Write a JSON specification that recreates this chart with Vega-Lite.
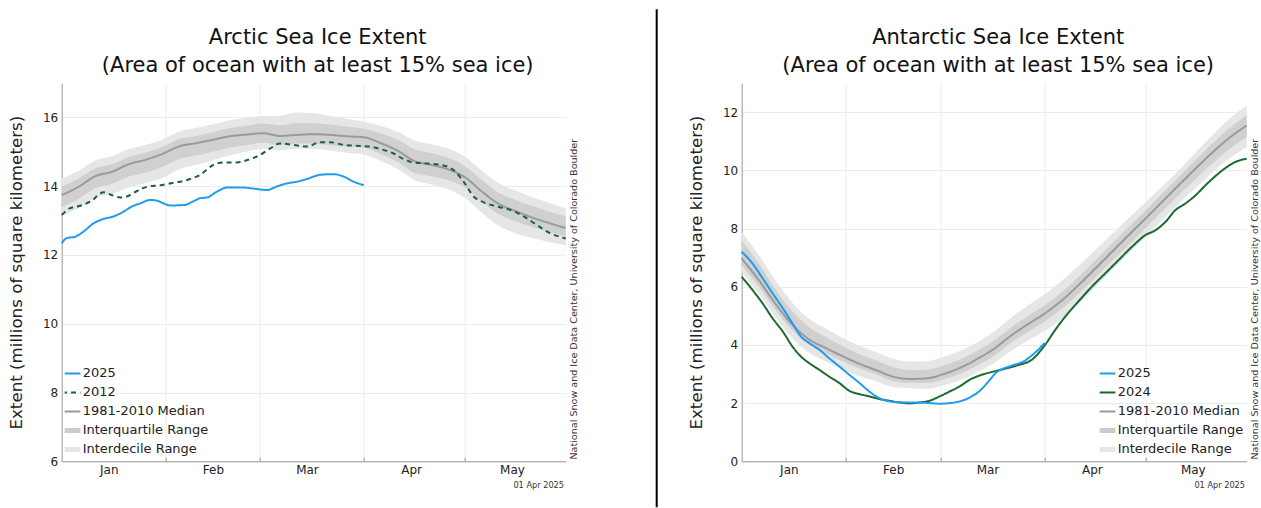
{
  "$schema": "https://vega.github.io/schema/vega-lite/v6.json",
  "padding": {"left": 7.7, "top": 8, "right": 5, "bottom": 2},
  "bounds": "flush",
  "spacing": 20,
  "config": {
    "font": "DejaVu Sans",
    "view": {"stroke": null},
    "axis": {
      "labelFont": "DejaVu Sans", "titleFont": "DejaVu Sans",
      "labelFontSize": 12, "titleFontSize": 16.7, "titleFontWeight": "normal",
      "labelColor": "#222", "titleColor": "#222",
      "domainColor": "#999", "domainWidth": 1,
      "gridColor": "#ececec", "gridWidth": 1,
      "ticks": false
    },
    "legend": {
      "labelFont": "DejaVu Sans", "labelFontSize": 13, "labelColor": "#222",
      "symbolType": "stroke", "symbolSize": 340, "symbolStrokeWidth": 2, "rowPadding": 2, "clipHeight": 17,
      "padding": 0, "labelOffset": 5, "offset": 3
    },
    "title": {
      "font": "DejaVu Sans", "fontSize": 21, "fontWeight": "normal",
      "color": "#111", "lineHeight": 28.6, "anchor": "middle", "dx": 4, "offset": 6.5
    }
  },
  "resolve": {"scale": {"x": "independent", "y": "independent", "color": "independent", "strokeDash": "independent"}},
  "datasets": {
    "arctic_bands": [
      {"series": "Interdecile Range", "day": 0, "extent": 13.14, "extent_high": 14.22},
      {"series": "Interdecile Range", "day": 5, "extent": 13.36, "extent_high": 14.45},
      {"series": "Interdecile Range", "day": 10, "extent": 13.66, "extent_high": 14.75},
      {"series": "Interdecile Range", "day": 15, "extent": 13.77, "extent_high": 14.87},
      {"series": "Interdecile Range", "day": 20, "extent": 13.97, "extent_high": 15.08},
      {"series": "Interdecile Range", "day": 25, "extent": 14.09, "extent_high": 15.20},
      {"series": "Interdecile Range", "day": 30, "extent": 14.24, "extent_high": 15.36},
      {"series": "Interdecile Range", "day": 35, "extent": 14.49, "extent_high": 15.59},
      {"series": "Interdecile Range", "day": 40, "extent": 14.62, "extent_high": 15.69},
      {"series": "Interdecile Range", "day": 45, "extent": 14.75, "extent_high": 15.80},
      {"series": "Interdecile Range", "day": 50, "extent": 14.90, "extent_high": 15.92},
      {"series": "Interdecile Range", "day": 55, "extent": 15.00, "extent_high": 15.98},
      {"series": "Interdecile Range", "day": 60, "extent": 15.09, "extent_high": 16.04},
      {"series": "Interdecile Range", "day": 65, "extent": 15.04, "extent_high": 16.05},
      {"series": "Interdecile Range", "day": 70, "extent": 15.09, "extent_high": 16.14},
      {"series": "Interdecile Range", "day": 75, "extent": 15.08, "extent_high": 16.12},
      {"series": "Interdecile Range", "day": 80, "extent": 15.04, "extent_high": 16.04},
      {"series": "Interdecile Range", "day": 85, "extent": 14.97, "extent_high": 15.95},
      {"series": "Interdecile Range", "day": 90, "extent": 14.92, "extent_high": 15.87},
      {"series": "Interdecile Range", "day": 95, "extent": 14.73, "extent_high": 15.75},
      {"series": "Interdecile Range", "day": 100, "extent": 14.50, "extent_high": 15.58},
      {"series": "Interdecile Range", "day": 105, "extent": 14.18, "extent_high": 15.33},
      {"series": "Interdecile Range", "day": 110, "extent": 14.05, "extent_high": 15.22},
      {"series": "Interdecile Range", "day": 115, "extent": 13.91, "extent_high": 15.09},
      {"series": "Interdecile Range", "day": 120, "extent": 13.66, "extent_high": 14.86},
      {"series": "Interdecile Range", "day": 125, "extent": 13.23, "extent_high": 14.45},
      {"series": "Interdecile Range", "day": 130, "extent": 12.86, "extent_high": 14.09},
      {"series": "Interdecile Range", "day": 135, "extent": 12.63, "extent_high": 13.88},
      {"series": "Interdecile Range", "day": 140, "extent": 12.49, "extent_high": 13.68},
      {"series": "Interdecile Range", "day": 145, "extent": 12.38, "extent_high": 13.52},
      {"series": "Interdecile Range", "day": 150, "extent": 12.28, "extent_high": 13.36},
      {"series": "Interquartile Range", "day": 0, "extent": 13.39, "extent_high": 13.99},
      {"series": "Interquartile Range", "day": 5, "extent": 13.63, "extent_high": 14.22},
      {"series": "Interquartile Range", "day": 10, "extent": 13.94, "extent_high": 14.52},
      {"series": "Interquartile Range", "day": 15, "extent": 14.07, "extent_high": 14.64},
      {"series": "Interquartile Range", "day": 20, "extent": 14.28, "extent_high": 14.85},
      {"series": "Interquartile Range", "day": 25, "extent": 14.40, "extent_high": 14.98},
      {"series": "Interquartile Range", "day": 30, "extent": 14.56, "extent_high": 15.14},
      {"series": "Interquartile Range", "day": 35, "extent": 14.79, "extent_high": 15.37},
      {"series": "Interquartile Range", "day": 40, "extent": 14.89, "extent_high": 15.46},
      {"series": "Interquartile Range", "day": 45, "extent": 15.00, "extent_high": 15.57},
      {"series": "Interquartile Range", "day": 50, "extent": 15.12, "extent_high": 15.69},
      {"series": "Interquartile Range", "day": 55, "extent": 15.20, "extent_high": 15.76},
      {"series": "Interquartile Range", "day": 60, "extent": 15.26, "extent_high": 15.82},
      {"series": "Interquartile Range", "day": 65, "extent": 15.20, "extent_high": 15.77},
      {"series": "Interquartile Range", "day": 70, "extent": 15.24, "extent_high": 15.83},
      {"series": "Interquartile Range", "day": 75, "extent": 15.23, "extent_high": 15.83},
      {"series": "Interquartile Range", "day": 80, "extent": 15.19, "extent_high": 15.79},
      {"series": "Interquartile Range", "day": 85, "extent": 15.15, "extent_high": 15.73},
      {"series": "Interquartile Range", "day": 90, "extent": 15.12, "extent_high": 15.67},
      {"series": "Interquartile Range", "day": 95, "extent": 14.93, "extent_high": 15.53},
      {"series": "Interquartile Range", "day": 100, "extent": 14.70, "extent_high": 15.35},
      {"series": "Interquartile Range", "day": 105, "extent": 14.38, "extent_high": 15.08},
      {"series": "Interquartile Range", "day": 110, "extent": 14.29, "extent_high": 14.96},
      {"series": "Interquartile Range", "day": 115, "extent": 14.17, "extent_high": 14.83},
      {"series": "Interquartile Range", "day": 120, "extent": 13.96, "extent_high": 14.59},
      {"series": "Interquartile Range", "day": 125, "extent": 13.55, "extent_high": 14.18},
      {"series": "Interquartile Range", "day": 130, "extent": 13.19, "extent_high": 13.81},
      {"series": "Interquartile Range", "day": 135, "extent": 12.98, "extent_high": 13.60},
      {"series": "Interquartile Range", "day": 140, "extent": 12.81, "extent_high": 13.42},
      {"series": "Interquartile Range", "day": 145, "extent": 12.67, "extent_high": 13.26},
      {"series": "Interquartile Range", "day": 150, "extent": 12.54, "extent_high": 13.12}
    ],
    "arctic_lines": [
      {"series": "1981-2010 Median", "day": 0, "extent": 13.74},
      {"series": "1981-2010 Median", "day": 5, "extent": 13.98},
      {"series": "1981-2010 Median", "day": 10, "extent": 14.29},
      {"series": "1981-2010 Median", "day": 15, "extent": 14.42},
      {"series": "1981-2010 Median", "day": 20, "extent": 14.64},
      {"series": "1981-2010 Median", "day": 25, "extent": 14.77},
      {"series": "1981-2010 Median", "day": 30, "extent": 14.94},
      {"series": "1981-2010 Median", "day": 35, "extent": 15.16},
      {"series": "1981-2010 Median", "day": 40, "extent": 15.25},
      {"series": "1981-2010 Median", "day": 45, "extent": 15.35},
      {"series": "1981-2010 Median", "day": 50, "extent": 15.45},
      {"series": "1981-2010 Median", "day": 55, "extent": 15.50},
      {"series": "1981-2010 Median", "day": 60, "extent": 15.54},
      {"series": "1981-2010 Median", "day": 65, "extent": 15.46},
      {"series": "1981-2010 Median", "day": 70, "extent": 15.49},
      {"series": "1981-2010 Median", "day": 75, "extent": 15.51},
      {"series": "1981-2010 Median", "day": 80, "extent": 15.49},
      {"series": "1981-2010 Median", "day": 85, "extent": 15.45},
      {"series": "1981-2010 Median", "day": 90, "extent": 15.42},
      {"series": "1981-2010 Median", "day": 95, "extent": 15.25},
      {"series": "1981-2010 Median", "day": 100, "extent": 15.03},
      {"series": "1981-2010 Median", "day": 105, "extent": 14.73},
      {"series": "1981-2010 Median", "day": 110, "extent": 14.62},
      {"series": "1981-2010 Median", "day": 115, "extent": 14.49},
      {"series": "1981-2010 Median", "day": 120, "extent": 14.26},
      {"series": "1981-2010 Median", "day": 125, "extent": 13.85},
      {"series": "1981-2010 Median", "day": 130, "extent": 13.49},
      {"series": "1981-2010 Median", "day": 135, "extent": 13.28},
      {"series": "1981-2010 Median", "day": 140, "extent": 13.09},
      {"series": "1981-2010 Median", "day": 145, "extent": 12.93},
      {"series": "1981-2010 Median", "day": 150, "extent": 12.78},
      {"series": "2012", "day": 0, "extent": 13.16},
      {"series": "2012", "day": 2.5, "extent": 13.36},
      {"series": "2012", "day": 5.5, "extent": 13.43},
      {"series": "2012", "day": 8.5, "extent": 13.55},
      {"series": "2012", "day": 12.5, "extent": 13.82},
      {"series": "2012", "day": 14.4, "extent": 13.76},
      {"series": "2012", "day": 17.4, "extent": 13.67},
      {"series": "2012", "day": 19.4, "extent": 13.70},
      {"series": "2012", "day": 22.4, "extent": 13.86},
      {"series": "2012", "day": 25.3, "extent": 13.98},
      {"series": "2012", "day": 29.3, "extent": 14.03},
      {"series": "2012", "day": 33.3, "extent": 14.10},
      {"series": "2012", "day": 37.3, "extent": 14.18},
      {"series": "2012", "day": 41.2, "extent": 14.33},
      {"series": "2012", "day": 45.2, "extent": 14.62},
      {"series": "2012", "day": 48.2, "extent": 14.69},
      {"series": "2012", "day": 52.1, "extent": 14.69},
      {"series": "2012", "day": 56.1, "extent": 14.79},
      {"series": "2012", "day": 59.1, "extent": 14.91},
      {"series": "2012", "day": 62.1, "extent": 15.10},
      {"series": "2012", "day": 65, "extent": 15.24},
      {"series": "2012", "day": 69, "extent": 15.20},
      {"series": "2012", "day": 73, "extent": 15.15},
      {"series": "2012", "day": 76.9, "extent": 15.28},
      {"series": "2012", "day": 79.9, "extent": 15.28},
      {"series": "2012", "day": 83.9, "extent": 15.20},
      {"series": "2012", "day": 88.8, "extent": 15.17},
      {"series": "2012", "day": 91.8, "extent": 15.15},
      {"series": "2012", "day": 94.8, "extent": 15.08},
      {"series": "2012", "day": 98.8, "extent": 14.95},
      {"series": "2012", "day": 101.7, "extent": 14.79},
      {"series": "2012", "day": 104.7, "extent": 14.69},
      {"series": "2012", "day": 108.7, "extent": 14.66},
      {"series": "2012", "day": 113.6, "extent": 14.60},
      {"series": "2012", "day": 116.6, "extent": 14.47},
      {"series": "2012", "day": 119.6, "extent": 14.13},
      {"series": "2012", "day": 122.6, "extent": 13.70},
      {"series": "2012", "day": 125.6, "extent": 13.53},
      {"series": "2012", "day": 129.5, "extent": 13.41},
      {"series": "2012", "day": 133.5, "extent": 13.31},
      {"series": "2012", "day": 137.5, "extent": 13.12},
      {"series": "2012", "day": 141.4, "extent": 12.87},
      {"series": "2012", "day": 145.4, "extent": 12.63},
      {"series": "2012", "day": 148.9, "extent": 12.51},
      {"series": "2012", "day": 150, "extent": 12.48},
      {"series": "2025", "day": 0, "extent": 12.34},
      {"series": "2025", "day": 1.5, "extent": 12.49},
      {"series": "2025", "day": 4, "extent": 12.53},
      {"series": "2025", "day": 6.5, "extent": 12.68},
      {"series": "2025", "day": 9.5, "extent": 12.92},
      {"series": "2025", "day": 12.5, "extent": 13.05},
      {"series": "2025", "day": 15.4, "extent": 13.12},
      {"series": "2025", "day": 18.4, "extent": 13.26},
      {"series": "2025", "day": 20.9, "extent": 13.41},
      {"series": "2025", "day": 23.4, "extent": 13.50},
      {"series": "2025", "day": 26.3, "extent": 13.60},
      {"series": "2025", "day": 28.3, "extent": 13.58},
      {"series": "2025", "day": 30.3, "extent": 13.50},
      {"series": "2025", "day": 32.3, "extent": 13.44},
      {"series": "2025", "day": 36.3, "extent": 13.45},
      {"series": "2025", "day": 39.2, "extent": 13.56},
      {"series": "2025", "day": 41.2, "extent": 13.65},
      {"series": "2025", "day": 43.2, "extent": 13.67},
      {"series": "2025", "day": 46.2, "extent": 13.84},
      {"series": "2025", "day": 49.2, "extent": 13.96},
      {"series": "2025", "day": 54.1, "extent": 13.96},
      {"series": "2025", "day": 57.1, "extent": 13.93},
      {"series": "2025", "day": 61.1, "extent": 13.89},
      {"series": "2025", "day": 64, "extent": 13.99},
      {"series": "2025", "day": 67, "extent": 14.08},
      {"series": "2025", "day": 70, "extent": 14.13},
      {"series": "2025", "day": 73, "extent": 14.21},
      {"series": "2025", "day": 76.9, "extent": 14.33},
      {"series": "2025", "day": 80.9, "extent": 14.35},
      {"series": "2025", "day": 83.9, "extent": 14.28},
      {"series": "2025", "day": 86.9, "extent": 14.13},
      {"series": "2025", "day": 89.9, "extent": 14.03}
    ],
    "antarctic_bands": [
      {"series": "Interdecile Range", "day": 0, "extent": 6.51, "extent_high": 7.89},
      {"series": "Interdecile Range", "day": 5, "extent": 5.78, "extent_high": 7.10},
      {"series": "Interdecile Range", "day": 10, "extent": 4.96, "extent_high": 6.22},
      {"series": "Interdecile Range", "day": 15, "extent": 4.24, "extent_high": 5.46},
      {"series": "Interdecile Range", "day": 20, "extent": 3.73, "extent_high": 4.90},
      {"series": "Interdecile Range", "day": 25, "extent": 3.43, "extent_high": 4.56},
      {"series": "Interdecile Range", "day": 30, "extent": 3.15, "extent_high": 4.24},
      {"series": "Interdecile Range", "day": 35, "extent": 2.92, "extent_high": 3.97},
      {"series": "Interdecile Range", "day": 40, "extent": 2.74, "extent_high": 3.75},
      {"series": "Interdecile Range", "day": 45, "extent": 2.55, "extent_high": 3.52},
      {"series": "Interdecile Range", "day": 50, "extent": 2.51, "extent_high": 3.43},
      {"series": "Interdecile Range", "day": 55, "extent": 2.49, "extent_high": 3.44},
      {"series": "Interdecile Range", "day": 60, "extent": 2.61, "extent_high": 3.59},
      {"series": "Interdecile Range", "day": 65, "extent": 2.79, "extent_high": 3.80},
      {"series": "Interdecile Range", "day": 70, "extent": 3.06, "extent_high": 4.09},
      {"series": "Interdecile Range", "day": 75, "extent": 3.38, "extent_high": 4.46},
      {"series": "Interdecile Range", "day": 80, "extent": 3.79, "extent_high": 4.93},
      {"series": "Interdecile Range", "day": 85, "extent": 4.15, "extent_high": 5.35},
      {"series": "Interdecile Range", "day": 90, "extent": 4.48, "extent_high": 5.74},
      {"series": "Interdecile Range", "day": 95, "extent": 4.89, "extent_high": 6.20},
      {"series": "Interdecile Range", "day": 100, "extent": 5.42, "extent_high": 6.71},
      {"series": "Interdecile Range", "day": 105, "extent": 5.99, "extent_high": 7.25},
      {"series": "Interdecile Range", "day": 110, "extent": 6.57, "extent_high": 7.81},
      {"series": "Interdecile Range", "day": 115, "extent": 7.15, "extent_high": 8.36},
      {"series": "Interdecile Range", "day": 120, "extent": 7.72, "extent_high": 8.91},
      {"series": "Interdecile Range", "day": 125, "extent": 8.30, "extent_high": 9.46},
      {"series": "Interdecile Range", "day": 130, "extent": 8.88, "extent_high": 10.02},
      {"series": "Interdecile Range", "day": 135, "extent": 9.42, "extent_high": 10.64},
      {"series": "Interdecile Range", "day": 140, "extent": 9.94, "extent_high": 11.23},
      {"series": "Interdecile Range", "day": 145, "extent": 10.42, "extent_high": 11.78},
      {"series": "Interdecile Range", "day": 150, "extent": 10.80, "extent_high": 12.23},
      {"series": "Interquartile Range", "day": 0, "extent": 6.74, "extent_high": 7.60},
      {"series": "Interquartile Range", "day": 5, "extent": 6.02, "extent_high": 6.81},
      {"series": "Interquartile Range", "day": 10, "extent": 5.22, "extent_high": 5.92},
      {"series": "Interquartile Range", "day": 15, "extent": 4.51, "extent_high": 5.16},
      {"series": "Interquartile Range", "day": 20, "extent": 4.01, "extent_high": 4.61},
      {"series": "Interquartile Range", "day": 25, "extent": 3.71, "extent_high": 4.27},
      {"series": "Interquartile Range", "day": 30, "extent": 3.44, "extent_high": 3.95},
      {"series": "Interquartile Range", "day": 35, "extent": 3.19, "extent_high": 3.68},
      {"series": "Interquartile Range", "day": 40, "extent": 2.98, "extent_high": 3.46},
      {"series": "Interquartile Range", "day": 45, "extent": 2.76, "extent_high": 3.23},
      {"series": "Interquartile Range", "day": 50, "extent": 2.69, "extent_high": 3.14},
      {"series": "Interquartile Range", "day": 55, "extent": 2.69, "extent_high": 3.15},
      {"series": "Interquartile Range", "day": 60, "extent": 2.82, "extent_high": 3.30},
      {"series": "Interquartile Range", "day": 65, "extent": 3.01, "extent_high": 3.51},
      {"series": "Interquartile Range", "day": 70, "extent": 3.29, "extent_high": 3.80},
      {"series": "Interquartile Range", "day": 75, "extent": 3.63, "extent_high": 4.15},
      {"series": "Interquartile Range", "day": 80, "extent": 4.07, "extent_high": 4.60},
      {"series": "Interquartile Range", "day": 85, "extent": 4.45, "extent_high": 4.99},
      {"series": "Interquartile Range", "day": 90, "extent": 4.80, "extent_high": 5.36},
      {"series": "Interquartile Range", "day": 95, "extent": 5.23, "extent_high": 5.80},
      {"series": "Interquartile Range", "day": 100, "extent": 5.75, "extent_high": 6.33},
      {"series": "Interquartile Range", "day": 105, "extent": 6.31, "extent_high": 6.90},
      {"series": "Interquartile Range", "day": 110, "extent": 6.88, "extent_high": 7.48},
      {"series": "Interquartile Range", "day": 115, "extent": 7.45, "extent_high": 8.06},
      {"series": "Interquartile Range", "day": 120, "extent": 8.02, "extent_high": 8.63},
      {"series": "Interquartile Range", "day": 125, "extent": 8.59, "extent_high": 9.21},
      {"series": "Interquartile Range", "day": 130, "extent": 9.16, "extent_high": 9.79},
      {"series": "Interquartile Range", "day": 135, "extent": 9.72, "extent_high": 10.38},
      {"series": "Interquartile Range", "day": 140, "extent": 10.25, "extent_high": 10.95},
      {"series": "Interquartile Range", "day": 145, "extent": 10.74, "extent_high": 11.46},
      {"series": "Interquartile Range", "day": 150, "extent": 11.14, "extent_high": 11.89}
    ],
    "antarctic_lines": [
      {"series": "1981-2010 Median", "day": 0, "extent": 6.97},
      {"series": "1981-2010 Median", "day": 5, "extent": 6.24},
      {"series": "1981-2010 Median", "day": 10, "extent": 5.42},
      {"series": "1981-2010 Median", "day": 15, "extent": 4.70},
      {"series": "1981-2010 Median", "day": 20, "extent": 4.19},
      {"series": "1981-2010 Median", "day": 25, "extent": 3.89},
      {"series": "1981-2010 Median", "day": 30, "extent": 3.61},
      {"series": "1981-2010 Median", "day": 35, "extent": 3.35},
      {"series": "1981-2010 Median", "day": 40, "extent": 3.13},
      {"series": "1981-2010 Median", "day": 45, "extent": 2.91},
      {"series": "1981-2010 Median", "day": 50, "extent": 2.83},
      {"series": "1981-2010 Median", "day": 55, "extent": 2.85},
      {"series": "1981-2010 Median", "day": 60, "extent": 3.00},
      {"series": "1981-2010 Median", "day": 65, "extent": 3.22},
      {"series": "1981-2010 Median", "day": 70, "extent": 3.52},
      {"series": "1981-2010 Median", "day": 75, "extent": 3.87},
      {"series": "1981-2010 Median", "day": 80, "extent": 4.32},
      {"series": "1981-2010 Median", "day": 85, "extent": 4.71},
      {"series": "1981-2010 Median", "day": 90, "extent": 5.08},
      {"series": "1981-2010 Median", "day": 95, "extent": 5.52},
      {"series": "1981-2010 Median", "day": 100, "extent": 6.05},
      {"series": "1981-2010 Median", "day": 105, "extent": 6.62},
      {"series": "1981-2010 Median", "day": 110, "extent": 7.20},
      {"series": "1981-2010 Median", "day": 115, "extent": 7.78},
      {"series": "1981-2010 Median", "day": 120, "extent": 8.35},
      {"series": "1981-2010 Median", "day": 125, "extent": 8.93},
      {"series": "1981-2010 Median", "day": 130, "extent": 9.51},
      {"series": "1981-2010 Median", "day": 135, "extent": 10.08},
      {"series": "1981-2010 Median", "day": 140, "extent": 10.63},
      {"series": "1981-2010 Median", "day": 145, "extent": 11.13},
      {"series": "1981-2010 Median", "day": 150, "extent": 11.54},
      {"series": "2024", "day": 0, "extent": 6.34},
      {"series": "2024", "day": 3.2, "extent": 5.89},
      {"series": "2024", "day": 6.2, "extent": 5.43},
      {"series": "2024", "day": 9.2, "extent": 4.91},
      {"series": "2024", "day": 12.2, "extent": 4.46},
      {"series": "2024", "day": 15.1, "extent": 3.94},
      {"series": "2024", "day": 17.6, "extent": 3.60},
      {"series": "2024", "day": 20.1, "extent": 3.37},
      {"series": "2024", "day": 23.1, "extent": 3.14},
      {"series": "2024", "day": 26, "extent": 2.91},
      {"series": "2024", "day": 29, "extent": 2.69},
      {"series": "2024", "day": 32, "extent": 2.42},
      {"series": "2024", "day": 35, "extent": 2.31},
      {"series": "2024", "day": 37.9, "extent": 2.23},
      {"series": "2024", "day": 40.9, "extent": 2.14},
      {"series": "2024", "day": 43.9, "extent": 2.08},
      {"series": "2024", "day": 46.9, "extent": 2.02},
      {"series": "2024", "day": 49.9, "extent": 1.99},
      {"series": "2024", "day": 52.8, "extent": 2.02},
      {"series": "2024", "day": 55.8, "extent": 2.08},
      {"series": "2024", "day": 58.8, "extent": 2.23},
      {"series": "2024", "day": 61.8, "extent": 2.40},
      {"series": "2024", "day": 64.7, "extent": 2.57},
      {"series": "2024", "day": 67.7, "extent": 2.80},
      {"series": "2024", "day": 70.7, "extent": 2.95},
      {"series": "2024", "day": 74.3, "extent": 3.07},
      {"series": "2024", "day": 78.2, "extent": 3.18},
      {"series": "2024", "day": 82.2, "extent": 3.31},
      {"series": "2024", "day": 86.2, "extent": 3.49},
      {"series": "2024", "day": 90.1, "extent": 4.00},
      {"series": "2024", "day": 93.1, "extent": 4.51},
      {"series": "2024", "day": 96.1, "extent": 4.97},
      {"series": "2024", "day": 100, "extent": 5.49},
      {"series": "2024", "day": 104, "extent": 6.00},
      {"series": "2024", "day": 108, "extent": 6.46},
      {"series": "2024", "day": 111.9, "extent": 6.91},
      {"series": "2024", "day": 115.9, "extent": 7.37},
      {"series": "2024", "day": 119.9, "extent": 7.77},
      {"series": "2024", "day": 122.9, "extent": 7.94},
      {"series": "2024", "day": 125.9, "extent": 8.23},
      {"series": "2024", "day": 128.8, "extent": 8.63},
      {"series": "2024", "day": 131.8, "extent": 8.86},
      {"series": "2024", "day": 134.8, "extent": 9.14},
      {"series": "2024", "day": 137.8, "extent": 9.49},
      {"series": "2024", "day": 140.8, "extent": 9.81},
      {"series": "2024", "day": 143.7, "extent": 10.08},
      {"series": "2024", "day": 146.7, "extent": 10.29},
      {"series": "2024", "day": 150, "extent": 10.40},
      {"series": "2025", "day": 0, "extent": 7.2},
      {"series": "2025", "day": 3.2, "extent": 6.8},
      {"series": "2025", "day": 6.2, "extent": 6.29},
      {"series": "2025", "day": 9.2, "extent": 5.77},
      {"series": "2025", "day": 12.2, "extent": 5.26},
      {"series": "2025", "day": 15.1, "extent": 4.74},
      {"series": "2025", "day": 17.6, "extent": 4.29},
      {"series": "2025", "day": 20.1, "extent": 4.06},
      {"series": "2025", "day": 23.1, "extent": 3.83},
      {"series": "2025", "day": 26, "extent": 3.54},
      {"series": "2025", "day": 29, "extent": 3.26},
      {"series": "2025", "day": 32, "extent": 2.97},
      {"series": "2025", "day": 35, "extent": 2.69},
      {"series": "2025", "day": 37.9, "extent": 2.40},
      {"series": "2025", "day": 40.9, "extent": 2.17},
      {"series": "2025", "day": 43.9, "extent": 2.06},
      {"series": "2025", "day": 46.9, "extent": 2.03},
      {"series": "2025", "day": 49.9, "extent": 2.02},
      {"series": "2025", "day": 52.8, "extent": 2.02},
      {"series": "2025", "day": 55.8, "extent": 2.00},
      {"series": "2025", "day": 58.8, "extent": 1.98},
      {"series": "2025", "day": 61.8, "extent": 2.00},
      {"series": "2025", "day": 64.7, "extent": 2.06},
      {"series": "2025", "day": 67.7, "extent": 2.19},
      {"series": "2025", "day": 70.7, "extent": 2.42},
      {"series": "2025", "day": 73.7, "extent": 2.80},
      {"series": "2025", "day": 75.4, "extent": 3.03},
      {"series": "2025", "day": 78, "extent": 3.20},
      {"series": "2025", "day": 80, "extent": 3.28},
      {"series": "2025", "day": 84, "extent": 3.45},
      {"series": "2025", "day": 87, "extent": 3.72},
      {"series": "2025", "day": 90, "extent": 4.07}
    ]
  },
  "hconcat": [
    {
      "width": 504,
      "height": 378.3,
      "title": {"text": ["Arctic Sea Ice Extent", "(Area of ocean with at least 15% sea ice)"]},
      "layer": [
        {
          "data": {"name": "arctic_bands"},
          "transform": [{"filter": "datum.series == 'Interdecile Range'"}],
          "mark": {"type": "area", "color": "#e6e6e6", "interpolate": "monotone"},
          "encoding": {
            "x": {"field": "day", "type": "quantitative", "scale": {"domain": [0, 150], "nice": false, "zero": false},
              "axis": {"title": null, "values": [14, 31, 45, 59, 73, 90, 104, 120, 134],
                "labelExpr": "datum.value==14?'Jan':datum.value==45?'Feb':datum.value==73?'Mar':datum.value==104?'Apr':datum.value==134?'May':''",
                "gridOpacity": {"condition": {"test": "datum.value==31||datum.value==59||datum.value==90||datum.value==120", "value": 1}, "value": 0},
                "ticks": true, "tickSize": -4, "tickColor": "#999",
                "tickOpacity": {"condition": {"test": "datum.value==31||datum.value==59||datum.value==90||datum.value==120", "value": 1}, "value": 0},
                "labelOverlap": false, "labelFlush": false, "labelPadding": 7}},
            "y": {"field": "extent", "type": "quantitative", "scale": {"domain": [6, 17], "nice": false, "zero": false},
              "axis": {"title": "Extent (millions of square kilometers)", "values": [6, 8, 10, 12, 14, 16], "labelPadding": 4,
                "titleX": -45, "titleY": 189.15, "titleAngle": 270, "titleAlign": "center", "titleBaseline": "middle"}},
            "y2": {"field": "extent_high"}
          }
        },
        {
          "data": {"name": "arctic_bands"},
          "transform": [{"filter": "datum.series == 'Interquartile Range'"}],
          "mark": {"type": "area", "color": "#d0d0d0", "interpolate": "monotone"},
          "encoding": {
            "x": {"field": "day", "type": "quantitative", "axis": {"title": null}},
            "y": {"field": "extent", "type": "quantitative", "axis": {"title": "Extent (millions of square kilometers)"}},
            "y2": {"field": "extent_high"}
          }
        },
        {
          "data": {"name": "arctic_lines"},
          "mark": {"type": "line", "interpolate": "monotone", "strokeWidth": 2},
          "encoding": {
            "x": {"field": "day", "type": "quantitative", "axis": {"title": null}},
            "y": {"field": "extent", "type": "quantitative", "axis": {"title": "Extent (millions of square kilometers)"}},
            "color": {"field": "series", "type": "nominal",
              "scale": {"domain": ["2025", "2012", "1981-2010 Median", "Interquartile Range", "Interdecile Range"],
                "range": ["#1f9bef", "#1b6234", "#9a9a9a", "#cccccc", "#e6e6e6"]},
              "legend": {"title": null, "orient": "bottom-left",
                "encode": {"symbols": {"update": {"strokeWidth": {"signal": "datum.value == 'Interquartile Range' || datum.value == 'Interdecile Range' ? 5 : 2"}}}}}},
            "strokeDash": {"field": "series", "type": "nominal",
              "scale": {"domain": ["2025", "2012", "1981-2010 Median", "Interquartile Range", "Interdecile Range"],
                "range": [[1, 0], [5, 4], [1, 0], [1, 0], [1, 0]]},
              "legend": {"title": null, "orient": "bottom-left",
                "encode": {"symbols": {"update": {"strokeWidth": {"signal": "datum.value == 'Interquartile Range' || datum.value == 'Interdecile Range' ? 5 : 2"}}}}}}
          }
        },
        {
          "data": {"values": [{}]},
          "mark": {"type": "text", "text": "National Snow and Ice Data Center, University of Colorado Boulder", "angle": 270, "align": "left", "baseline": "middle", "fontSize": 9.6, "color": "#333"},
          "encoding": {
            "x": {"datum": 152.6, "type": "quantitative", "axis": {"title": null}},
            "y": {"datum": 6.05, "type": "quantitative", "axis": {"title": "Extent (millions of square kilometers)"}}
          }
        },
        {
          "data": {"values": [{}]},
          "mark": {"type": "text", "text": "01 Apr 2025", "align": "right", "baseline": "middle", "fontSize": 8.2, "color": "#333"},
          "encoding": {
            "x": {"datum": 149.5, "type": "quantitative", "axis": {"title": null}},
            "y": {"datum": 5.29, "type": "quantitative", "axis": {"title": "Extent (millions of square kilometers)"}}
          }
        }
      ]
    },
    {
      "width": 135.5,
      "height": 378.3,
      "data": {"values": [{}]},
      "mark": {"type": "rule", "color": "#000", "strokeWidth": 2},
      "encoding": {
        "x": {"datum": 71, "type": "quantitative", "scale": {"domain": [0, 135.5], "nice": false, "zero": false}, "axis": null},
        "y": {"datum": 452, "type": "quantitative", "scale": {"domain": [0, 378.3], "nice": false, "zero": false}, "axis": null},
        "y2": {"datum": -46}
      }
    },
    {
      "width": 505,
      "height": 378.3,
      "title": {"text": ["Antarctic Sea Ice Extent", "(Area of ocean with at least 15% sea ice)"]},
      "layer": [
        {
          "data": {"name": "antarctic_bands"},
          "transform": [{"filter": "datum.series == 'Interdecile Range'"}],
          "mark": {"type": "area", "color": "#e6e6e6", "interpolate": "monotone"},
          "encoding": {
            "x": {"field": "day", "type": "quantitative", "scale": {"domain": [0, 150], "nice": false, "zero": false},
              "axis": {"title": null, "values": [14, 31, 45, 59, 73, 90, 104, 120, 134],
                "labelExpr": "datum.value==14?'Jan':datum.value==45?'Feb':datum.value==73?'Mar':datum.value==104?'Apr':datum.value==134?'May':''",
                "gridOpacity": {"condition": {"test": "datum.value==31||datum.value==59||datum.value==90||datum.value==120", "value": 1}, "value": 0},
                "ticks": true, "tickSize": -4, "tickColor": "#999",
                "tickOpacity": {"condition": {"test": "datum.value==31||datum.value==59||datum.value==90||datum.value==120", "value": 1}, "value": 0},
                "labelOverlap": false, "labelFlush": false, "labelPadding": 7}},
            "y": {"field": "extent", "type": "quantitative", "scale": {"domain": [0, 13], "nice": false, "zero": false},
              "axis": {"title": "Extent (millions of square kilometers)", "values": [0, 2, 4, 6, 8, 10, 12], "labelPadding": 4,
                "titleX": -45, "titleY": 189.15, "titleAngle": 270, "titleAlign": "center", "titleBaseline": "middle"}},
            "y2": {"field": "extent_high"}
          }
        },
        {
          "data": {"name": "antarctic_bands"},
          "transform": [{"filter": "datum.series == 'Interquartile Range'"}],
          "mark": {"type": "area", "color": "#d0d0d0", "interpolate": "monotone"},
          "encoding": {
            "x": {"field": "day", "type": "quantitative", "axis": {"title": null}},
            "y": {"field": "extent", "type": "quantitative", "axis": {"title": "Extent (millions of square kilometers)"}},
            "y2": {"field": "extent_high"}
          }
        },
        {
          "data": {"name": "antarctic_lines"},
          "mark": {"type": "line", "interpolate": "monotone", "strokeWidth": 2},
          "encoding": {
            "x": {"field": "day", "type": "quantitative", "axis": {"title": null}},
            "y": {"field": "extent", "type": "quantitative", "axis": {"title": "Extent (millions of square kilometers)"}},
            "color": {"field": "series", "type": "nominal",
              "scale": {"domain": ["2025", "2024", "1981-2010 Median", "Interquartile Range", "Interdecile Range"],
                "range": ["#1f9bef", "#1b6a2e", "#9a9a9a", "#cccccc", "#e6e6e6"]},
              "legend": {"title": null, "orient": "bottom-right",
                "encode": {"symbols": {"update": {"strokeWidth": {"signal": "datum.value == 'Interquartile Range' || datum.value == 'Interdecile Range' ? 5 : 2"}}}}}},
            "strokeDash": {"field": "series", "type": "nominal",
              "scale": {"domain": ["2025", "2024", "1981-2010 Median", "Interquartile Range", "Interdecile Range"],
                "range": [[1, 0], [1, 0], [1, 0], [1, 0], [1, 0]]},
              "legend": {"title": null, "orient": "bottom-right",
                "encode": {"symbols": {"update": {"strokeWidth": {"signal": "datum.value == 'Interquartile Range' || datum.value == 'Interdecile Range' ? 5 : 2"}}}}}}
          }
        },
        {
          "data": {"values": [{}]},
          "mark": {"type": "text", "text": "National Snow and Ice Data Center, University of Colorado Boulder", "angle": 270, "align": "left", "baseline": "middle", "fontSize": 9.6, "color": "#333"},
          "encoding": {
            "x": {"datum": 152.6, "type": "quantitative", "axis": {"title": null}},
            "y": {"datum": 0.06, "type": "quantitative", "axis": {"title": "Extent (millions of square kilometers)"}}
          }
        },
        {
          "data": {"values": [{}]},
          "mark": {"type": "text", "text": "01 Apr 2025", "align": "right", "baseline": "middle", "fontSize": 8.2, "color": "#333"},
          "encoding": {
            "x": {"datum": 149.5, "type": "quantitative", "axis": {"title": null}},
            "y": {"datum": -0.84, "type": "quantitative", "axis": {"title": "Extent (millions of square kilometers)"}}
          }
        }
      ]
    }
  ]
}
